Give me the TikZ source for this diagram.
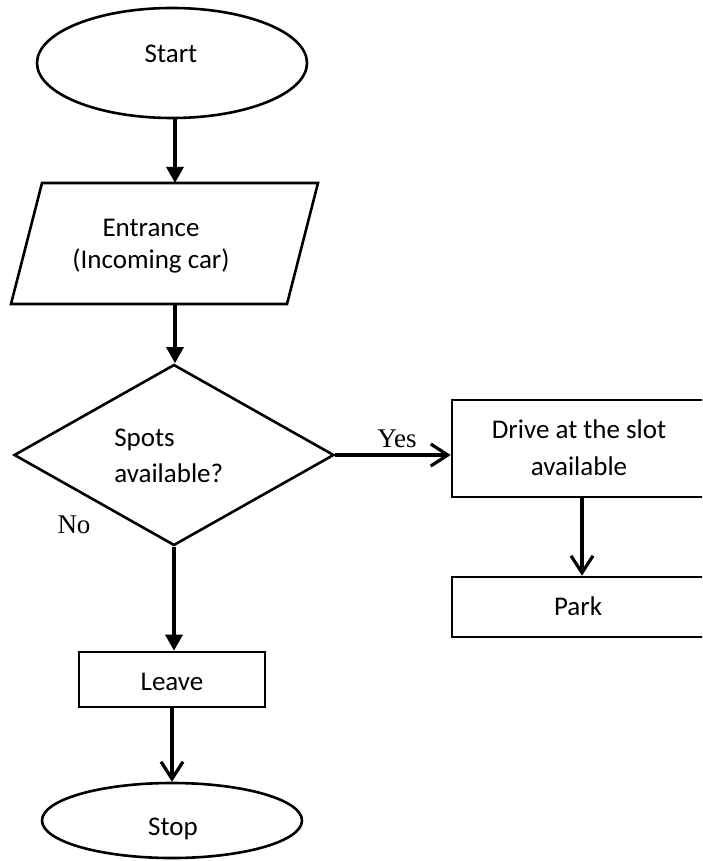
\documentclass[tikz,border=0pt]{standalone}
\usepackage{fontspec}
\setmainfont{Carlito}
\newfontfamily\serifyes{Liberation Serif}
\usetikzlibrary{shapes.geometric,arrows.meta}
\begin{document}
\begin{tikzpicture}[x=1pt,y=-1pt,line width=2.6pt,
  txt/.style={font=\fontsize{27}{33}\selectfont,inner sep=0pt,align=center},
  lbl/.style={font=\serifyes\fontsize{27}{32}\selectfont,inner sep=0pt},
  boxshape/.style={draw,rectangle,inner sep=0pt},
  ellshape/.style={draw,ellipse,inner sep=0pt},
  fl/.style={-{Triangle[width=17pt,length=16pt]},line width=3.2pt},
  op/.style={-{Straight Barb[width=22pt,length=17pt]},line width=3.2pt}]
\useasboundingbox (0,0) rectangle (702,861);
\clip (0,0) rectangle (702,861);

% shapes
\node[ellshape,minimum width=270pt,minimum height=110pt] (start) at (172,63) {};
\draw[line join=miter] (42,183) -- (318,183) -- (287,304) -- (11,304) -- cycle;
\coordinate (enttop) at (175,183);
\coordinate (entbot) at (175,304);
\node[draw,diamond,inner sep=0pt,minimum width=320pt,minimum height=181pt] (dia) at (174,455) {};
\node[boxshape,minimum width=260pt,minimum height=97pt] (drive) at (582,448.5) {};
\node[boxshape,minimum width=260pt,minimum height=60pt] (park) at (582,607) {};
\node[boxshape,minimum width=186pt,minimum height=55pt] (leave) at (172,679.5) {};
\node[ellshape,minimum width=260pt,minimum height=75pt] (stop) at (172,820.5) {};

% texts
\node[txt,anchor=base] (tstart) at (171,63) {Start};
\node[txt,font=\fontsize{27}{32.5}\selectfont] (tent) at (151,246) {Entrance\\(Incoming car)};
\node[txt,align=left,anchor=west,font=\fontsize{27}{36}\selectfont] (tdia) at (113,456) {Spots\\available?};
\node[txt,font=\fontsize{27}{37}\selectfont] (tdrive) at (579,447.5) {Drive at the slot\\available};
\node[txt,anchor=base] (tpark) at (578,615) {Park};
\node[txt,anchor=base] (tleave) at (172,690) {Leave};
\node[txt,anchor=base] (tstop) at (173,835) {Stop};
\node[lbl,anchor=base] (tyes) at (397,447) {Yes};
\node[lbl,anchor=base] (tno) at (74,533) {No};

% connectors
\draw[fl] (enttop |- start.south) -- (enttop);
\draw[fl] (entbot) -- (entbot |- dia.north);
\draw[op] (dia.east) -- (dia.east -| drive.west);
\draw[op] (drive.south) -- (park.north);
\draw[fl] (dia.south) -- (dia.south |- leave.north);
\draw[op] (leave.south) -- (stop.north);
\end{tikzpicture}
\end{document}
